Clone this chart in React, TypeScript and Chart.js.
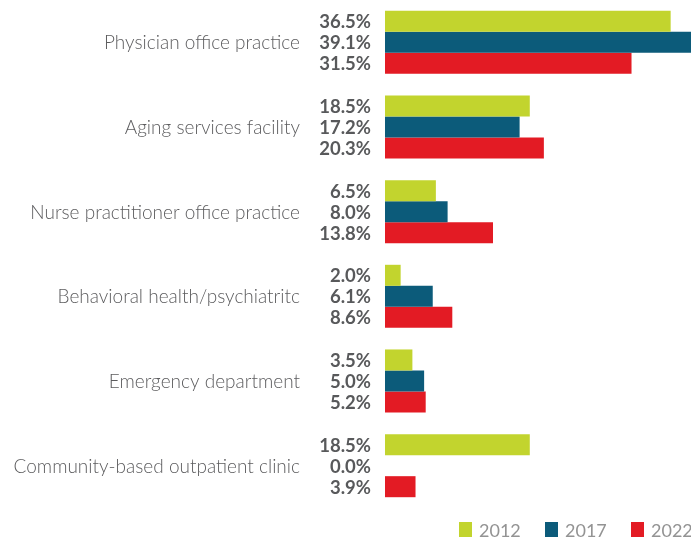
import React, { useEffect, useRef } from "react";
import { Chart, registerables } from "chart.js";

Chart.register(...registerables);

const categories = [
  "Physician office practice",
  "Aging services facility",
  "Nurse practitioner office practice",
  "Behavioral health/psychiatritc",
  "Emergency department",
  "Community-based outpatient clinic",
];
const seriesNames = ["2012", "2017", "2022"];
const values2012 = [36.5, 18.5, 6.5, 2.0, 3.5, 18.5];
const values2017 = [39.1, 17.2, 8.0, 6.1, 5.0, 0.0];
const values2022 = [31.5, 20.3, 13.8, 8.6, 5.2, 3.9];
const colors = ["#c2d42e", "#0c5b7a", "#e31b24"];

const FONT = "Lato, 'Open Sans', sans-serif";

const labelPlugin = {
  id: "labelPlugin",
  afterDatasetsDraw(chart: any) {
    const ctx = chart.ctx;
    const yScale = chart.scales.y;
    ctx.save();
    // value labels
    ctx.font = `bold 18.5px ${FONT}`;
    ctx.fillStyle = "#58595b";
    ctx.textAlign = "right";
    ctx.textBaseline = "middle";
    chart.data.datasets.forEach((ds: any, di: number) => {
      const meta = chart.getDatasetMeta(di);
      meta.data.forEach((bar: any, i: number) => {
        const v = ds.data[i];
        ctx.fillText(v.toFixed(1) + "%", 371, bar.y + 1);
      });
    });
    // category labels
    ctx.font = `300 19px ${FONT}`;
    ctx.fillStyle = "#5c5c5e";
    categories.forEach((c, i) => {
      const y = yScale.getPixelForValue(i);
      ctx.fillText(c, 300, y + 1);
    });
    // legend
    const legendX = [459, 545, 631];
    ctx.font = `18px ${FONT}`;
    ctx.textAlign = "left";
    seriesNames.forEach((n, i) => {
      ctx.fillStyle = colors[i];
      ctx.fillRect(legendX[i], 522, 13, 15);
      ctx.fillStyle = "#939393";
      ctx.fillText(n, legendX[i] + 20, 531);
    });
    ctx.restore();
  },
};

export default function App() {
  const ref = useRef<HTMLCanvasElement>(null);
  useEffect(() => {
    document.body.style.margin = "0";
    const chart = new Chart(ref.current!, {
      type: "bar",
      data: {
        labels: categories,
        datasets: [
          { label: seriesNames[0], data: values2012, backgroundColor: colors[0] },
          { label: seriesNames[1], data: values2017, backgroundColor: colors[1] },
          { label: seriesNames[2], data: values2022, backgroundColor: colors[2] },
        ],
      },
      options: {
        indexAxis: "y",
        animation: false,
        responsive: false,
        maintainAspectRatio: false,
        datasets: { bar: { categoryPercentage: 0.745, barPercentage: 1 } },
        layout: { padding: { left: 385, right: 0, top: 0, bottom: 29 } },
        scales: {
          x: { display: false, min: 0, max: 39.1 },
          y: { display: false },
        },
        plugins: { legend: { display: false }, tooltip: { enabled: false } },
      },
      plugins: [labelPlugin],
    });
    return () => chart.destroy();
  }, []);
  return (
    <div style={{ width: 691, height: 537, background: "#fff" }}>
      <canvas ref={ref} width={691} height={537} style={{ display: "block" }} />
    </div>
  );
}
